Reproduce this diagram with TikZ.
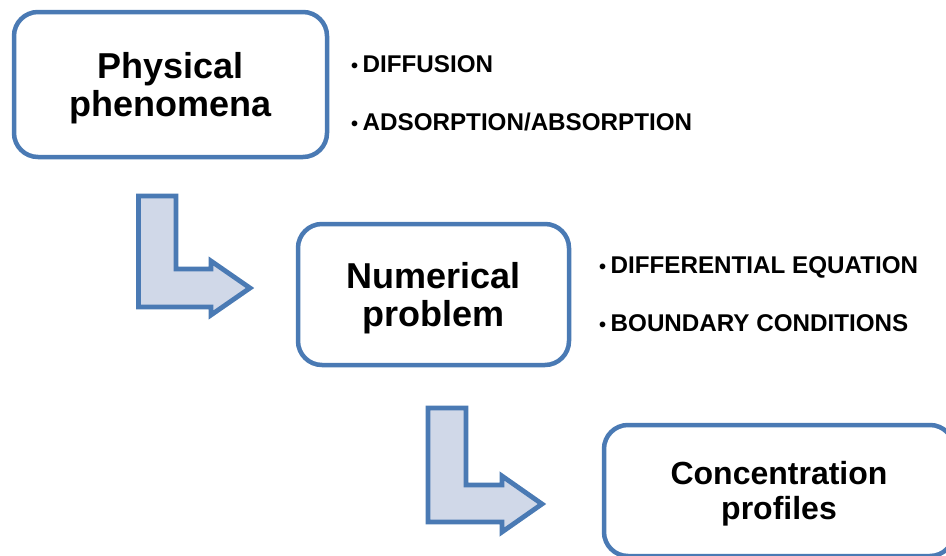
\documentclass[tikz,border=0pt]{standalone}
\usepackage{fontspec}
\setmainfont{Liberation Sans}
\definecolor{boxblue}{RGB}{74,122,180}
\definecolor{arrowfill}{RGB}{208,216,232}
\newcommand\itembullet{{\fontsize{20}{20}\selectfont •}\hspace{4.5pt}}
\begin{document}
\begin{tikzpicture}[x=1pt,y=-1pt,
  box/.style={draw=boxblue, line width=4.5pt, rounded corners=24pt, fill=white,
    align=center, inner sep=0pt, text depth=0pt, font=\bfseries\fontsize{36}{38}\selectfont},
  bentarrow/.style={draw=boxblue, line width=4.8pt, fill=arrowfill, line join=miter},
  item/.style={anchor=base west, inner sep=0pt, font=\bfseries\fontsize{24.2}{28}\selectfont}]
\useasboundingbox (0,0) rectangle (946,555);
\clip (0,0) rectangle (946,555);
\fill[white] (0,0) rectangle (946,555);

% boxes
\node[box, minimum width=313pt, minimum height=145pt] (phys) at (170.5,84.5) {Physical\\phenomena};
\node[box, minimum width=271pt, minimum height=141pt] (num) at (433.5,294.5) {Numerical\\problem};
\node[box, minimum width=350pt, minimum height=131pt, font=\bfseries\fontsize{32}{35}\selectfont] (conc) at (779,490.5) {Concentration\\profiles};

% bullet items
\node[item] (diff) at (351,72.5) {\itembullet DIFFUSION};
\node[item] (ads) at (351,130.5) {\itembullet ADSORPTION/ABSORPTION};
\node[item] (deq) at (599,273) {\itembullet DIFFERENTIAL EQUATION};
\node[item] (bc) at (599,331) {\itembullet BOUNDARY CONDITIONS};

% bent arrows
\draw[bentarrow] (138.5,196) -- (176,196) -- (176,269) -- (211,269) -- (211,261)
  -- (250,288) -- (211,315) -- (211,307) -- (138.5,307) -- cycle;
\draw[bentarrow] (428,408) -- (466,408) -- (466,485) -- (502,485) -- (502,476)
  -- (542,504) -- (502,532) -- (502,522) -- (428,522) -- cycle;
\end{tikzpicture}
\end{document}
